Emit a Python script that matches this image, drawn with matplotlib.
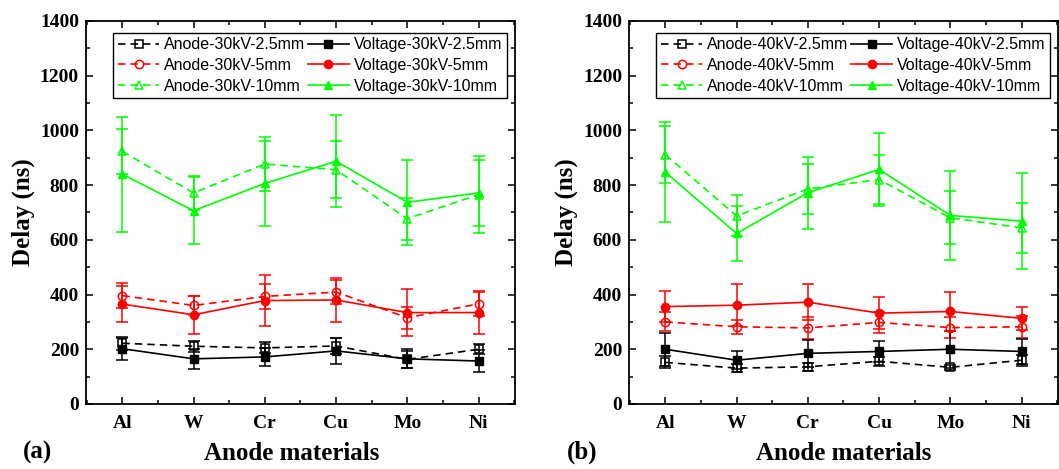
import numpy as np
import matplotlib
matplotlib.use("Agg")
import matplotlib.pyplot as plt
from matplotlib.ticker import MultipleLocator

materials = ["Al", "W", "Cr", "Cu", "Mo", "Ni"]
gaps = ["2.5mm", "5mm", "10mm"]

# panel (a) 30 kV
anode_30 = {
    "2.5mm": [222, 211, 205, 212, 163, 200],
    "5mm": [396, 360, 393, 409, 315, 366],
    "10mm": [923, 771, 877, 856, 677, 765],
}
anode_30_err = {
    "2.5mm": [24, 20, 20, 28, 30, 18],
    "5mm": [45, 36, 45, 45, 40, 45],
    "10mm": [82, 63, 100, 105, 77, 140],
}
voltage_30 = {
    "2.5mm": [202, 165, 172, 194, 165, 157],
    "5mm": [365, 326, 378, 380, 334, 334],
    "10mm": [840, 706, 806, 887, 737, 771],
}
voltage_30_err = {
    "2.5mm": [40, 36, 32, 48, 35, 39],
    "5mm": [67, 70, 92, 80, 85, 78],
    "10mm": [210, 122, 155, 169, 155, 120],
}

# panel (b) 40 kV
anode_40 = {
    "2.5mm": [152, 131, 136, 156, 134, 160],
    "5mm": [300, 282, 278, 298, 279, 282],
    "10mm": [911, 687, 786, 820, 680, 644],
}
anode_40_err = {
    "2.5mm": [22, 14, 14, 16, 10, 20],
    "5mm": [35, 26, 40, 38, 38, 40],
    "10mm": [105, 75, 92, 90, 97, 92],
}
voltage_40 = {
    "2.5mm": [200, 160, 185, 192, 200, 192],
    "5mm": [356, 361, 372, 332, 338, 313],
    "10mm": [847, 623, 772, 857, 689, 668],
}
voltage_40_err = {
    "2.5mm": [60, 32, 48, 38, 67, 47],
    "5mm": [57, 77, 65, 58, 72, 42],
    "10mm": [183, 100, 132, 133, 164, 176],
}

colors = {"2.5mm": "black", "5mm": "#ff0000", "10mm": "#00ff00"}
markers = {"2.5mm": "s", "5mm": "o", "10mm": "^"}

serif = "Liberation Serif"
sans = "Liberation Sans"

fig = plt.figure(figsize=(10.59, 4.69), dpi=100)
ax_a = fig.add_axes([0.0812, 0.1386, 0.405, 0.817])
ax_b = fig.add_axes([0.594, 0.1386, 0.405, 0.817])

x = np.arange(1, len(materials) + 1)


def draw(ax, kv, anode, anode_err, volt, volt_err, label_x):
    handles, labels = [], []
    for g in gaps:
        c = colors[g]
        h = ax.errorbar(x, anode[g], yerr=anode_err[g], color=c, ecolor=c,
                        marker=markers[g], markerfacecolor="none", markeredgecolor=c,
                        markersize=6, markeredgewidth=1.1, lw=1.2, ls=(0, (4.5, 3)),
                        elinewidth=1.1, capsize=4, capthick=1.1)
        handles.append(h[0])
        labels.append(f"Anode-{kv}kV-{g}")
    for g in gaps:
        c = colors[g]
        h = ax.errorbar(x, volt[g], yerr=volt_err[g], color=c, ecolor=c,
                        marker=markers[g], markerfacecolor=c, markeredgecolor=c,
                        markersize=6, lw=1.2, ls="-",
                        elinewidth=1.1, capsize=4, capthick=1.1)
        handles.append(h[0])
        labels.append(f"Voltage-{kv}kV-{g}")

    ax.set_xlim(0.49, 6.51)
    ax.set_ylim(0, 1400)
    ax.set_xticks(x)
    ax.set_xticklabels(materials)
    ax.xaxis.set_minor_locator(MultipleLocator(0.5))
    ax.yaxis.set_major_locator(MultipleLocator(200))
    ax.yaxis.set_minor_locator(MultipleLocator(100))
    ax.tick_params(which="both", direction="in", top=True, right=True, width=1.1)
    ax.tick_params(which="major", length=5)
    ax.tick_params(which="minor", length=3)
    ax.tick_params(axis="both", labelsize=14)
    ax.tick_params(axis="x", pad=8)
    ax.tick_params(axis="y", pad=5)
    for lab in ax.get_xticklabels() + ax.get_yticklabels():
        lab.set_fontfamily(serif)
        lab.set_fontweight("bold")
    for sp in ax.spines.values():
        sp.set_linewidth(1.3)

    ax.set_ylabel("Delay (ns)", fontsize=18, fontweight="bold", family=serif)
    ax.yaxis.set_label_coords(-0.12, 0.5)
    ax.set_xlabel("Anode materials", fontsize=18, fontweight="bold", family=serif)
    ax.xaxis.set_label_coords(label_x, -0.1)

    leg = ax.legend(handles, labels, ncol=2, loc="upper left",
                    bbox_to_anchor=(0.063, 0.969), borderaxespad=0,
                    prop={"family": sans, "size": 11.5},
                    frameon=True, fancybox=False, edgecolor="black", framealpha=1,
                    handlelength=2.6, handletextpad=0.3, columnspacing=0.15,
                    borderpad=0.3, labelspacing=0.35)
    leg.get_frame().set_linewidth(1.0)


draw(ax_a, 30, anode_30, anode_30_err, voltage_30, voltage_30_err, 0.48)
draw(ax_b, 40, anode_40, anode_40_err, voltage_40, voltage_40_err, 0.5)

fig.text(37 / 1059, 1 - 452 / 469, "(a)", fontsize=18, fontweight="bold",
         family=serif, ha="center", va="center")
fig.text(582 / 1059, 1 - 452 / 469, "(b)", fontsize=18, fontweight="bold",
         family=serif, ha="center", va="center")

fig.savefig("out.png", dpi=100)
